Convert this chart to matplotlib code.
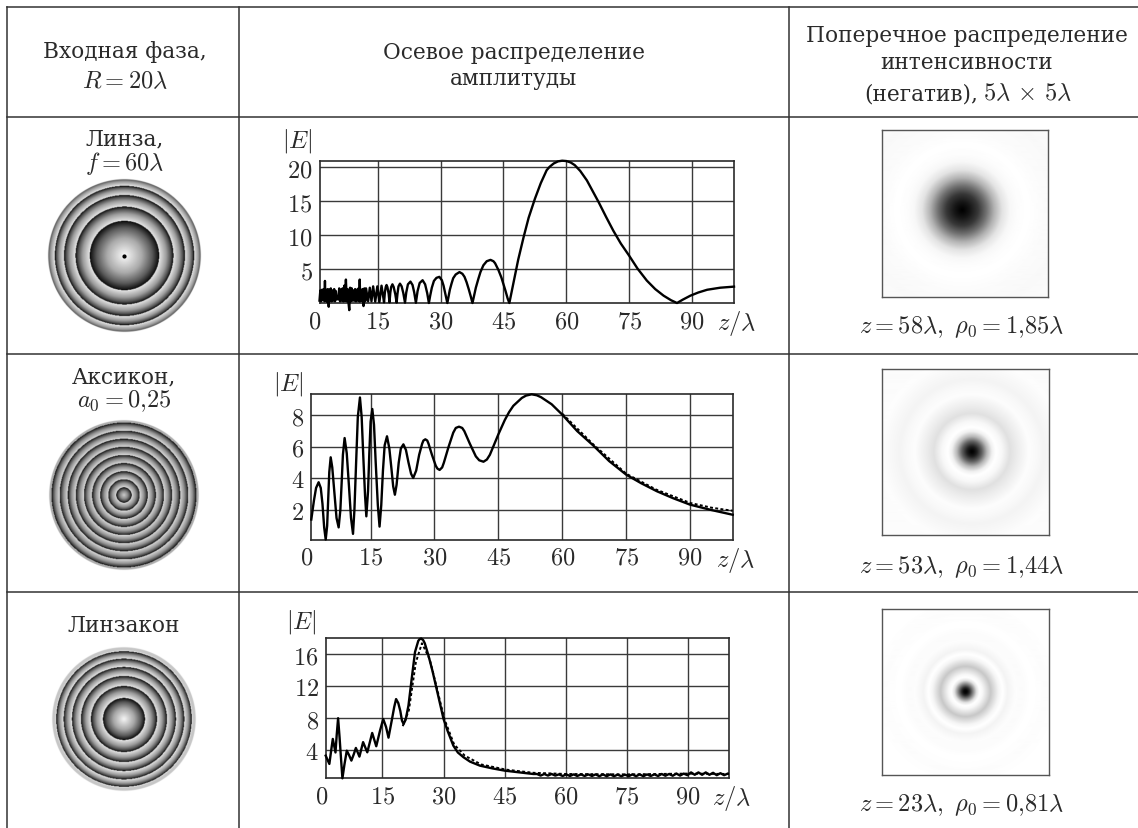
import numpy as np
import matplotlib
matplotlib.use("Agg")
import matplotlib.pyplot as plt

W, H = 1138, 829

plt.rcParams['font.family'] = ['DejaVu Serif', 'Liberation Serif']
plt.rcParams['mathtext.fontset'] = 'cm'

INK = '#2a2a2a'
TXT = 15.6    # cyrillic size
MTH = 17.6    # math size

# ---- axial amplitude curves ----
lens_z = [1.1, 1.3, 1.5, 1.7, 1.9, 2.1, 2.3, 2.4, 2.5, 2.7, 2.9, 3.1, 3.3, 3.5, 3.6, 3.8, 4.0, 4.2, 4.4, 4.6,
          4.8, 5.0, 5.2, 5.6, 5.8, 6.0, 6.2, 6.4, 6.6, 6.8, 7.0, 7.2, 7.4, 7.6, 7.8, 8.0, 8.2, 8.4, 8.6, 8.8,
          9.0, 9.2, 9.4, 9.6, 9.8, 10.0, 10.2, 10.4, 10.6, 10.7, 10.8, 11.0, 11.2, 11.4, 11.6, 11.8, 12.0,
          12.2, 12.7, 13.1, 13.5, 13.9, 14.4, 14.9, 15.4, 15.9, 16.5,
          16.7, 16.9, 17.1, 17.3, 17.6, 17.8, 18.0, 18.2, 18.5, 18.8, 19.2, 19.5, 19.7, 19.95, 20.3, 20.7, 21.1,
          21.5, 21.8, 22.2, 22.8, 23.3, 23.7, 24.1, 24.5, 25.0, 25.7, 26.3, 26.8, 27.2, 27.5, 27.9, 28.4, 29.0,
          29.7, 30.3, 30.7, 31.2, 31.6, 32.2, 32.6, 33.0, 33.6, 34.5, 35.2, 35.7, 36.2, 36.7, 37.2, 37.6,
          38.0, 38.4, 39.0, 39.5, 40.2, 41.0, 41.9, 42.6, 43.0, 43.8, 44.5, 45.0, 45.5, 46.0, 46.4, 47.3, 48.5,
          49.8, 51.0, 52.5, 53.9, 55.3, 56.0, 57.0, 58.0, 59.0, 60.0, 61.0, 62.0, 63.3, 64.9, 66.3, 67.7, 69.5,
          71.2, 73.0, 75.0, 77.0, 79.2, 81.2, 83.2, 85.0, 86.4, 87.8, 89.6, 91.5, 93.6, 96.7, 100.0]
lens_e = [0.4, 1.9, 0.3, 2.0, 0.5, 2.1, 0.3, 3.3, 0.4, 2.0, 0.2, 2.1, -0.5, 2.0, 0.4, 2.2, 0.3, 1.9, 0.4, 2.1,
          0.3, 1.8, 0.6, 0.6, 2.2, 0.3, 2.0, 0.4, 2.2, 0.3, 2.6, 0.4, 3.5, 0.3, 2.1, 0.2, -1.0, 2.3, 0.3, 2.2,
          0.4, 1.9, 0.4, 2.1, 0.3, 2.0, 0.4, 2.2, 0.3, 3.5, 0.3, 2.0, 0.4, 2.1, -0.4, 2.2, 0.3,
          2.2, 0.3, 2.3, 0.3, 2.5, 0.25, 2.5, 0.2, 2.6, 0.15,
          1.6, 2.4, 2.7, 2.4, 1.4, 0.15, 1.6, 2.4, 2.8, 2.4, 1.3, 0.12, 1.4, 2.5, 2.9, 2.5, 1.5,
          0.1, 1.6, 2.8, 3.2, 2.7, 1.6, 0.08, 1.8, 3.0, 3.4, 2.8, 1.5, 0.05, 1.1, 2.3, 3.3, 3.75,
          3.9, 3.4, 2.6, 1.2, 0.05, 2.0, 2.9, 3.7, 4.25, 4.6, 4.35, 3.9, 3.1, 2.1, 1.0, 0.05,
          1.2, 2.3, 3.6, 4.6, 5.6, 6.2, 6.4, 6.2, 5.9, 4.9, 3.8, 2.8, 1.8, 0.7, 0.05, 2.8, 6.4,
          9.75, 12.6, 15.4, 17.7, 19.6, 20.1, 20.6, 20.9, 21.0, 20.95, 20.75, 20.35, 19.5, 18.1, 16.5, 14.9, 12.7,
          10.7, 8.8, 7.0, 5.1, 3.35, 2.1, 1.13, 0.45, 0.05, 0.55, 1.13, 1.6, 2.0, 2.3, 2.46]

axicon_z = [1.08, 1.7, 2.2, 2.8, 3.3, 3.7, 4.1, 4.46, 4.8, 5.05, 5.3, 5.63, 6.0, 6.5, 7.0, 7.5,
            7.9, 8.2, 8.5, 8.9, 9.4, 9.9, 10.4, 10.87, 11.2, 11.6, 12.0, 12.5, 12.9, 13.3, 13.7, 14.0,
            14.4, 14.7, 15.0, 15.4, 15.8, 16.2, 16.7, 17.1, 17.5, 17.9, 18.3, 18.85, 19.4, 19.9, 20.3, 20.7,
            21.1, 21.6, 22.1, 22.7, 23.3, 23.9, 24.5, 25.0, 25.7, 26.4, 27.1, 27.4, 27.85, 28.3, 28.6, 29.4, 30.3,
            30.7, 31.2, 31.8, 32.2, 33.3, 34.4, 35.0, 35.75, 36.5, 37.0, 38.3, 39.7, 40.5, 41.5, 42.3, 43.0, 45.0,
            46.5, 47.5, 48.5, 50.5, 51.5, 52.8, 54.0, 55.0, 57.5, 60.0, 63.5, 67.3, 71.0, 75.0, 78.5, 82.2, 86.0,
            90.0, 95.0, 100.0]
axicon_e = [1.4, 2.6, 3.4, 3.76, 3.4, 2.4, 0.9, 0.13, 1.0, 2.7, 4.4, 5.34, 4.7, 3.1, 1.5, 0.9,
            2.0, 3.7, 5.5, 6.56, 5.6, 3.6, 1.5, 0.49, 2.0, 5.0, 7.9, 9.13, 7.9, 5.3, 2.9, 1.6,
            3.2, 5.6, 7.6, 8.4, 7.4, 5.0, 2.3, 0.95, 2.3, 4.5, 6.1, 6.67, 5.9, 4.6, 3.5, 2.97,
            3.6, 5.0, 5.9, 6.16, 5.8, 5.0, 4.3, 4.03, 4.5, 5.5, 6.2, 6.4, 6.48, 6.4, 6.2, 5.5, 4.8,
            4.62, 4.54, 4.7, 5.0, 6.0, 6.9, 7.2, 7.28, 7.2, 7.0, 6.2, 5.4, 5.15, 5.06, 5.2, 5.5, 6.8,
            7.7, 8.2, 8.6, 9.1, 9.25, 9.33, 9.27, 9.15, 8.7, 8.04, 7.0, 6.08, 5.1, 4.24, 3.7, 3.19, 2.75,
            2.34, 2.0, 1.7]
axicon_dash_z = [60.0, 67.3, 75.0, 82.0, 90.0, 95.0, 100.0]
axicon_dash_e = [8.1, 6.15, 4.3, 3.3, 2.45, 2.15, 1.95]

lensacon_z = [1.1, 2.0, 2.4, 2.84, 3.5, 3.8, 4.14, 4.5, 4.9, 5.2, 5.7, 6.27, 6.8, 7.4, 8.0, 8.5, 9.37, 10.27, 11.3,
              12.5, 13.5, 14.4, 15.2, 15.9, 16.5, 17.4, 17.9, 18.36, 18.9, 19.4, 19.8, 20.2, 20.7, 21.4, 22.2, 23.0,
              23.8, 24.1, 24.5, 25.0, 25.4, 26.3, 27.3, 28.3, 30.0, 31.0, 32.4, 33.5, 34.9, 36.5, 38.9, 42.0, 45.0, 52.0,
              52.9, 53.8, 54.7, 55.6, 56.5, 57.4, 58.3, 59.2, 60.1, 61.0, 61.9, 62.8, 63.7, 64.6, 65.5, 66.4, 67.3,
              68.2, 69.1, 70.0, 70.9, 71.8, 72.7, 73.6, 74.5, 75.4, 76.3, 77.2, 78.1, 79.0, 79.9, 80.8, 81.7, 82.6,
              83.5, 84.4, 85.3, 86.2, 87.1, 88.0, 88.9, 89.8, 90.7, 91.6, 92.5, 93.4, 94.3, 95.2, 96.1, 97.0, 97.9,
              98.8, 99.7]
lensacon_e = [3.3, 2.26, 3.8, 5.4, 3.7, 5.9, 8.0, 5.6, 2.6, 0.46, 2.2, 3.93, 3.4, 2.68, 3.5, 4.27, 3.18, 5.0, 3.72,
              6.15, 4.48, 6.4, 7.9, 6.9, 5.56, 8.0, 9.4, 10.4, 9.9, 8.9, 7.7, 7.28, 7.8, 9.6, 13.0, 16.3,
              17.7, 17.9, 18.0, 17.8, 17.4, 15.86, 13.9, 11.67, 7.9, 6.4, 4.56, 3.7, 3.1, 2.55, 2.05, 1.7, 1.42, 1.0,
              1.0, 0.8, 1.0, 0.8, 1.0, 0.8, 0.95, 0.75, 0.95, 0.75, 0.95, 0.75, 0.95, 0.75, 0.95, 0.75, 0.95,
              0.72, 0.95, 0.72, 0.95, 0.72, 0.92, 0.72, 0.92, 0.72, 0.95, 0.72, 0.95, 0.72, 0.95, 0.75, 0.95, 0.75,
              1.0, 0.78, 1.0, 0.78, 1.05, 0.8, 1.05, 0.85, 1.2, 0.9, 1.2, 0.9, 1.2, 0.9, 1.15, 0.85, 1.1,
              0.85, 1.05]
lensacon_dash_z = [20.0, 21.5, 23.2, 24.7, 26.6, 28.5, 30.2, 32.6, 35.2, 39.2, 45.3, 52.0, 60.0, 75.0, 90.0, 100.0]
lensacon_dash_e = [7.0, 9.0, 15.0, 17.4, 15.4, 11.5, 7.9, 4.7, 3.3, 2.2, 1.55, 1.15, 1.0, 0.95, 1.05, 1.0]

xticks = [15, 30, 45, 60, 75, 90]
lens_yticks = [5, 10, 15, 20]
axicon_yticks = [2, 4, 6, 8]
lensacon_yticks = [4, 8, 12, 16]

# ---- input phase rings, radii in px ----
lens_rings = [34.7, 49.0, 60.5, 69.7, 78.0]
axicon_rings = [7.6, 15.7, 23.8, 31.9, 40.0, 48.1, 56.2, 64.3, 72.4, 81.0]
lensacon_rings = [21.0, 33.0, 43.0, 52.0, 60.3, 67.7, 75.0]

# ---- negative intensity, radial profiles (px, gray) ----
spot1_r = [0, 3, 8, 16, 24, 32, 40, 48, 55, 65, 80, 100, 120]
spot1_g = [0.0, 0.03, 0.09, 0.22, 0.44, 0.7, 0.89, 0.97, 0.99, 1.0, 0.985, 0.975, 0.985]
spot2_r = [0, 2, 5, 10, 15, 20, 24, 30, 38, 46, 57, 65, 72, 80, 90, 105, 120]
spot2_g = [0.0, 0.03, 0.12, 0.38, 0.72, 0.94, 1.0, 0.97, 0.88, 0.93, 0.99, 0.975, 0.955, 0.97, 0.99, 0.985, 0.99]
spot3_r = [0, 2, 4, 8, 11, 14, 17, 25, 33, 37, 42, 50, 57, 65, 80, 95, 120]
spot3_g = [0.0, 0.04, 0.17, 0.58, 0.88, 1.0, 0.97, 0.78, 0.96, 1.0, 0.955, 0.99, 0.985, 1.0, 0.99, 1.0, 1.0]


def px_axes(fig, x0, y0, x1, y1):
    # pixel box, y counted from the top
    return fig.add_axes([x0 / W, 1 - y1 / H, (x1 - x0) / W, (y1 - y0) / H])


def draw_chart(fig, box, xlim, ylim, yticks, z, e, dash=None):
    ax = px_axes(fig, *box)
    ax.patch.set_alpha(0)
    ax.set_xlim(*xlim)
    ax.set_ylim(*ylim)
    ax.set_xticks(xticks)
    ax.set_xticklabels(['$%d$' % t for t in xticks], fontsize=MTH, color=INK)
    ax.set_yticks(yticks)
    ax.set_yticklabels(['$%d$' % t for t in yticks], fontsize=MTH, color=INK, va='center_baseline')
    ax.tick_params(axis='x', length=0, pad=4.5)
    ax.tick_params(axis='y', length=0, pad=5)
    ax.grid(True, color='#3a3a3a', lw=1.0)
    ax.set_axisbelow(True)
    for s in ax.spines.values():
        s.set_color('#2a2a2a')
        s.set_linewidth(1.2)
    ax.plot(z, e, color='black', lw=1.7, clip_on=False, solid_joinstyle='round', zorder=3)
    if dash is not None:
        ax.plot(dash[0], dash[1], color='black', lw=1.4, ls=(0, (1.5, 1.2)), zorder=3)
    ax.annotate('$0$', xy=(0, 0), xycoords=('data', 'axes fraction'), xytext=(0, -4.5),
                textcoords='offset points', ha='center', va='top', fontsize=MTH, color=INK,
                annotation_clip=False)
    ax.annotate(r'$z/\lambda$', xy=(100, 0), xycoords=('data', 'axes fraction'), xytext=(2, -3.5),
                textcoords='offset points', ha='center', va='top', fontsize=MTH, color=INK,
                annotation_clip=False)
    return ax


def phase_disc(fig, cx, cy, R, rings, center=0.97, hi=0.82, lo=0.04, rim=None):
    # sawtooth gray between the ring radii, light inside, black at the outer edge
    ax = px_axes(fig, cx - R - 2, cy - R - 2, cx + R + 2, cy + R + 2)
    ax.axis('off')
    xs = np.linspace(-R - 2, R + 2, int(4 * R))
    xx, yy = np.meshgrid(xs, xs)
    r = np.hypot(xx, yy)
    rp = []
    gp = []
    start = 0.0
    top = center
    for edge in rings:
        w = edge - start
        rp += [start + 1e-6, start + 0.5 * w, start + 0.8 * w, edge]
        gp += [top, top * 0.68, top * 0.36, lo]
        start = edge
        top = hi
    img = np.interp(r, rp, gp)
    if rim is not None:
        img = np.where(r > R - 2.2, rim, img)
    alpha = np.clip((R - r) * 2 + 0.5, 0, 1)
    img = img * alpha + (1 - alpha)
    ax.imshow(img, cmap='gray', vmin=0, vmax=1, extent=[xs[0], xs[-1], xs[0], xs[-1]],
              interpolation='bilinear')
    return ax


def spot(fig, box, cx, cy, rr, gg):
    x0, y0, x1, y1 = box
    ax = px_axes(fig, x0, y0, x1, y1)
    xs = np.arange(x0, x1, 0.5)
    ys = np.arange(y0, y1, 0.5)
    xx, yy = np.meshgrid(xs, ys)
    ax.imshow(np.interp(np.hypot(xx - cx, yy - cy), rr, gg), cmap='gray', vmin=0, vmax=1,
              extent=[x0, x1, y1, y0], aspect='auto', interpolation='bilinear')
    ax.set_xticks([])
    ax.set_yticks([])
    for s in ax.spines.values():
        s.set_color('#555555')
        s.set_linewidth(1.0)
    return ax


fig = plt.figure(figsize=(W / 100, H / 100), dpi=100, facecolor='white')

# whole page in pixel coords, table rules and free text go here
page = fig.add_axes([0, 0, 1, 1])
page.set_xlim(0, W)
page.set_ylim(H, 0)
page.axis('off')

for y in [7.5, 118, 355, 592.5]:
    page.plot([7, W], [y, y], color='#333333', lw=1.1)
for x in [7, 239.5, 789]:
    page.plot([x, x], [7.5, H], color='#333333', lw=1.1)


def label(x, y, s, size=TXT, ha='center'):
    page.text(x, y, s, fontsize=size, ha=ha, va='baseline', color=INK)


label(125, 58, 'Входная фаза,')
label(125, 88, r'$R=20\lambda$', MTH)
label(514, 59, 'Осевое распределение')
label(514, 85, 'амплитуды')
label(967, 42, 'Поперечное распределение')
label(967, 69, 'интенсивности')
label(978, 100, '(негатив),', ha='right')
label(983, 100, r'$5\lambda\,\times\,5\lambda$', MTH, ha='left')

label(125, 145, 'Линза,')
label(125, 170, r'$f=60\lambda$', MTH)
label(124, 383, 'Аксикон,')
label(124, 407, r'$a_0=0{,}25$', MTH)
label(124, 632, 'Линзакон')

label(961, 333, r'$z=58\lambda,\ \rho_0=1{,}85\lambda$', MTH)
label(961, 573, r'$z=53\lambda,\ \rho_0=1{,}44\lambda$', MTH)
label(961, 811, r'$z=23\lambda,\ \rho_0=0{,}81\lambda$', MTH)

label(297, 147, '$|E|$', MTH)
label(288, 391, '$|E|$', MTH)
label(301.7, 628, '$|E|$', MTH)

draw_chart(fig, (319.5, 161.7, 734, 304), (1.1, 100), (0.05, 21), lens_yticks, lens_z, lens_e)
draw_chart(fig, (311.3, 395, 732.7, 540.7), (1.08, 100), (0.12, 9.35), axicon_yticks, axicon_z, axicon_e,
           dash=(axicon_dash_z, axicon_dash_e))
draw_chart(fig, (325.7, 638.7, 729, 779.3), (1.1, 100), (0.46, 18.1), lensacon_yticks, lensacon_z, lensacon_e,
           dash=(lensacon_dash_z, lensacon_dash_e))

phase_disc(fig, 124, 257, 76.3, lens_rings, center=0.98, hi=0.9)
phase_disc(fig, 124, 496.5, 74.7, axicon_rings, center=0.8, hi=0.85, rim=0.68)
phase_disc(fig, 123.7, 720.3, 71.7, lensacon_rings, center=0.96, hi=0.9, rim=0.78)

# small black mark at the lens centre, on top of the disc
mark = px_axes(fig, 120, 253, 128, 261)
mark.axis('off')
mark.plot([0.5], [0.5], 'o', color='black', ms=2)
mark.set_xlim(0, 1)
mark.set_ylim(0, 1)

spot(fig, (881.7, 131.3, 1048.3, 297.7), 961.7, 210.7, spot1_r, spot1_g)
spot(fig, (882, 369.7, 1048.7, 536), 971.7, 452.7, spot2_r, spot2_g)
spot(fig, (882, 609.7, 1048.7, 776), 965.3, 692.7, spot3_r, spot3_g)

fig.savefig('out.png', dpi=100)
